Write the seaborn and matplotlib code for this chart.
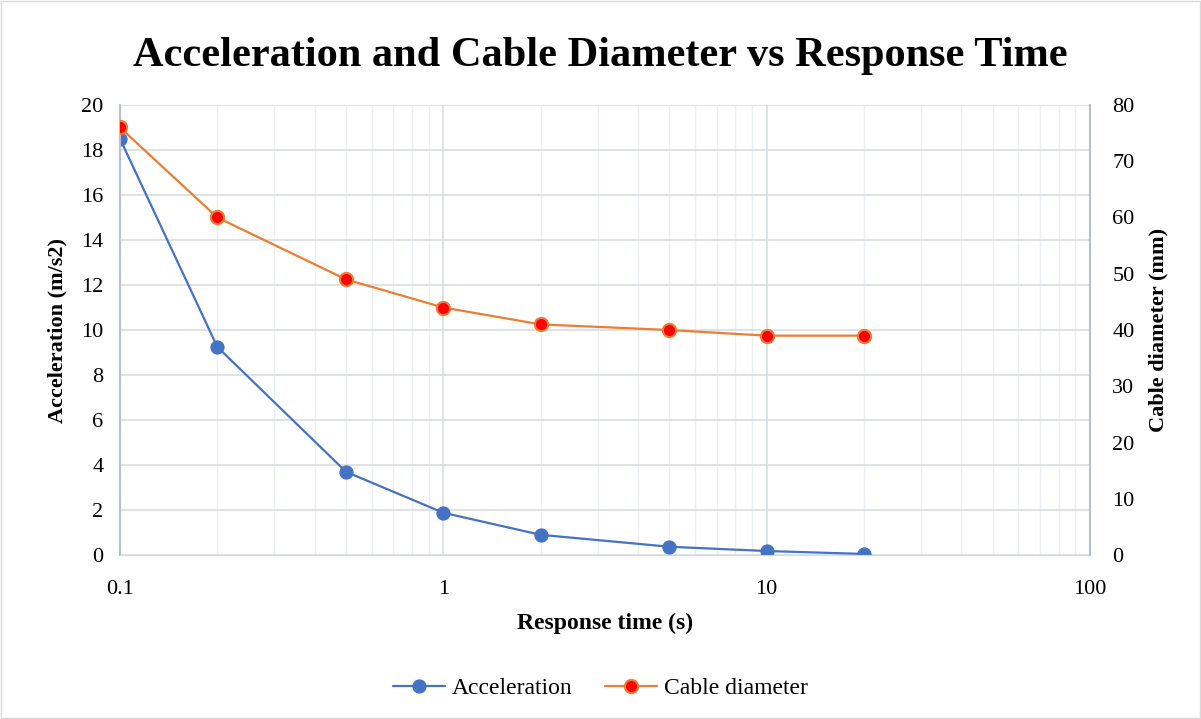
import pandas as pd
import matplotlib.pyplot as plt
import seaborn as sns
import numpy as np

response_time = [0.1, 0.2, 0.5, 1, 2, 5, 10, 20]
acceleration = [18.5, 9.25, 3.7, 1.88, 0.9, 0.37, 0.18, 0.05]
cable_diameter = [76, 60, 49, 44, 41, 40, 39, 39]

df = pd.DataFrame({'time': response_time,
                   'acc': acceleration,
                   'cable': cable_diameter})

sns.set_style('white')
plt.rcParams['font.family'] = ['Liberation Serif', 'DejaVu Serif']
plt.rcParams['text.color'] = 'black'
plt.rcParams['axes.labelcolor'] = 'black'
plt.rcParams['xtick.color'] = 'black'
plt.rcParams['ytick.color'] = 'black'

fig = plt.figure(figsize=(12.01, 7.19), dpi=100)
ax = fig.add_axes([0.0999, 0.228, 0.8077, 0.626])
ax2 = ax.twinx()

blue = '#4472c4'
orange = '#ed7d31'

sns.lineplot(data=df, x='time', y='acc', ax=ax, color=blue, marker='o',
             markersize=9.5, markeredgecolor=blue, markerfacecolor=blue,
             linewidth=1.6, label='Acceleration', legend=False)
sns.lineplot(data=df, x='time', y='cable', ax=ax2, color=orange, marker='o',
             markersize=9.5, markeredgecolor=orange, markerfacecolor='red',
             markeredgewidth=1.5, linewidth=1.6, label='Cable diameter', legend=False)

ax.set_xscale('log')
ax.set_xlim(0.1, 100)
ax.set_ylim(0, 20)
ax2.set_ylim(0, 80)
ax.set_yticks(np.arange(0, 21, 2))
ax2.set_yticks(np.arange(0, 81, 10))
ax.set_xticks([0.1, 1, 10, 100])
ax.set_xticklabels(['0.1', '1', '10', '100'])

ax.grid(True, which='major', color='#d9dde3', linewidth=1.2)
ax.grid(True, which='minor', axis='x', color='#ebeef2', linewidth=1.0)
ax.set_axisbelow(True)

ax.spines['top'].set_visible(False)
ax2.spines['top'].set_visible(False)
ax.spines['left'].set_color('#b4c0d0')
ax.spines['bottom'].set_color('#d9d9d9')
ax.spines['left'].set_linewidth(1.5)
ax2.spines['right'].set_color('#b4c0d0')
ax2.spines['right'].set_linewidth(1.5)
ax2.spines['left'].set_visible(False)
ax2.spines['bottom'].set_visible(False)
ax.spines['right'].set_visible(False)

ax.tick_params(axis='y', which='both', length=0, labelsize=16, pad=12)
ax.tick_params(axis='x', which='both', length=0, labelsize=16, pad=18)
ax2.tick_params(axis='y', length=0, labelsize=16, pad=16)

ax.set_xlabel('Response time (s)', fontsize=17, fontweight='bold', labelpad=10)
ax.set_ylabel('Acceleration (m/s2)', fontsize=16, fontweight='bold', labelpad=10)
ax2.set_ylabel('Cable diameter (mm)', fontsize=16, fontweight='bold', labelpad=10)

fig.suptitle('Acceleration and Cable Diameter vs Response Time',
             fontsize=30.5, fontweight='bold', y=0.948)

h1, l1 = ax.get_legend_handles_labels()
h2, l2 = ax2.get_legend_handles_labels()
fig.legend(h1 + h2, l1 + l2, loc='center', bbox_to_anchor=(0.5, 0.043),
           ncol=2, frameon=False, fontsize=17, handlelength=2.2,
           handletextpad=0.3, columnspacing=1.4)

fig.patches.append(plt.Rectangle((0.001, 0.001), 0.998, 0.998,
                                 transform=fig.transFigure, fill=False,
                                 edgecolor='#d9d9d9', linewidth=1))

fig.savefig('out.png', dpi=100)
